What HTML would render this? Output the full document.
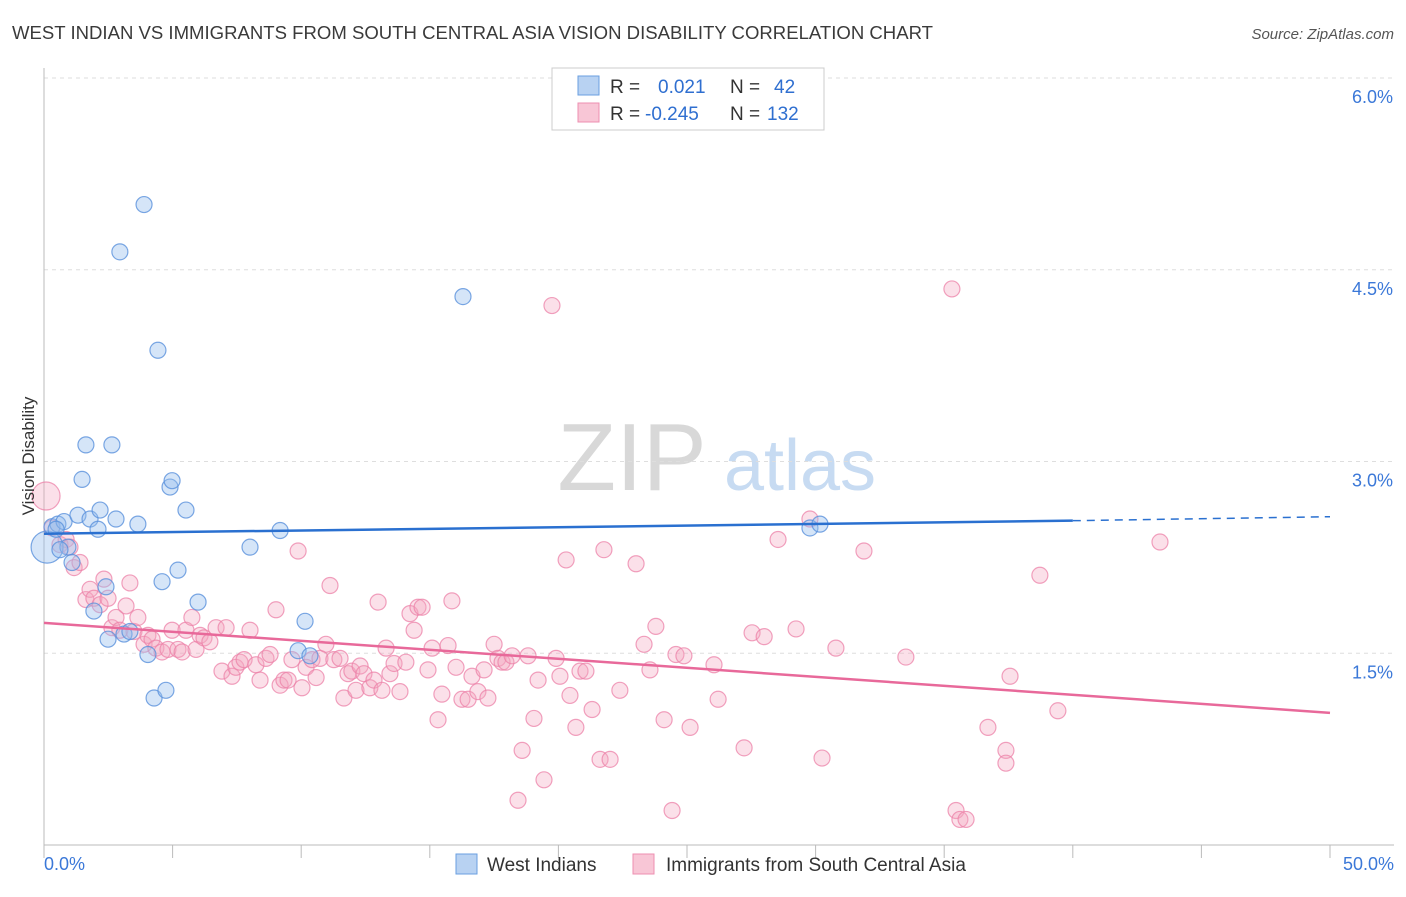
<!DOCTYPE html>
<html><head><meta charset="utf-8">
<style>
body{margin:0;background:#fff;font-family:"Liberation Sans",sans-serif;}
svg text{font-family:"Liberation Sans",sans-serif;}
</style></head>
<body>
<svg id="chart" width="1406" height="892" xmlns="http://www.w3.org/2000/svg">
<text x="12" y="39" font-size="18" fill="#3a3a3a" textLength="921" lengthAdjust="spacingAndGlyphs">WEST INDIAN VS IMMIGRANTS FROM SOUTH CENTRAL ASIA VISION DISABILITY CORRELATION CHART</text>
<text x="1394" y="39" font-size="15" fill="#555" text-anchor="end" font-style="italic">Source: ZipAtlas.com</text>
<g>
<text x="632" y="490" font-size="96" fill="#d8d8d8" text-anchor="middle" font-family="Liberation Serif, serif">ZIP</text>
<text x="800" y="490" font-size="72" fill="#c7dbf2" text-anchor="middle">atlas</text>
</g>
<g id="grid"></g>
<g id="axes"></g>
<g id="pink-points"></g>
<g id="blue-points"></g>
<g id="lines"></g>
<text transform="translate(34,456) rotate(-90)" font-size="17" fill="#333" text-anchor="middle">Vision Disability</text>
<g>
<rect x="552" y="68" width="272" height="62" fill="#fff" stroke="#ccc"/>
<rect x="578" y="76" width="21" height="19" fill="#b8d2f2" stroke="#6a9fe0"/>
<rect x="578" y="103" width="21" height="19" fill="#f8c6d6" stroke="#ee8fb0"/>
<text x="610" y="93" font-size="19" fill="#333">R =</text>
<text x="658" y="93" font-size="19" fill="#2f6fd0">0.021</text>
<text x="730" y="93" font-size="19" fill="#333">N =</text>
<text x="774" y="93" font-size="19" fill="#2f6fd0">42</text>
<text x="610" y="120" font-size="19" fill="#333">R =</text>
<text x="645" y="120" font-size="19" fill="#2f6fd0">-0.245</text>
<text x="730" y="120" font-size="19" fill="#333">N =</text>
<text x="767" y="120" font-size="19" fill="#2f6fd0">132</text>
</g>
<g>
<rect x="456" y="854" width="21" height="20" fill="#b8d2f2" stroke="#6a9fe0"/>
<text x="487" y="871" font-size="19" fill="#333">West Indians</text>
<rect x="633" y="854" width="21" height="20" fill="#f8c6d6" stroke="#ee8fb0"/>
<text x="666" y="871" font-size="19" fill="#333">Immigrants from South Central Asia</text>
</g>
</svg>
<script>
const yTicks=[1.5,3.0,4.5,6.0];
const yTickLabels=["1.5%","3.0%","4.5%","6.0%"];
const xTicks=[0,5,10,15,20,25,30,35,40,45,50];
const xEndLabels=["0.0%","50.0%"];
const blueX=[0.12,0.31,0.54,0.78,0.93,1.09,1.32,1.48,1.63,1.79,1.94,2.10,2.18,2.41,2.49,2.64,2.80,2.95,3.11,3.34,3.65,3.89,4.04,4.28,4.43,4.59,4.74,4.90,4.98,5.21,5.52,5.99,8.01,9.18,9.88,10.15,10.34,16.29,29.78,30.17,0.62,0.47];
const blueY=[2.33,2.49,2.51,2.53,2.33,2.21,2.58,2.86,3.13,2.55,1.83,2.47,2.62,2.02,1.61,3.13,2.55,4.64,1.65,1.67,2.51,5.01,1.49,1.15,3.87,2.06,1.21,2.80,2.85,2.15,2.62,1.90,2.33,2.46,1.52,1.75,1.48,4.29,2.48,2.51,2.31,2.47];
const pinkX=[0.08,0.31,0.62,0.86,1.01,1.17,1.40,1.63,1.79,1.94,2.18,2.33,2.49,2.64,2.80,2.95,3.19,3.34,3.50,3.65,3.89,4.04,4.20,4.35,4.59,4.82,4.98,5.21,5.37,5.52,5.75,5.91,6.07,6.22,6.45,6.69,6.92,7.08,7.31,7.46,7.62,7.78,8.01,8.24,8.40,8.63,8.79,9.02,9.18,9.33,9.49,9.64,9.88,10.03,10.19,10.42,10.58,10.73,10.96,11.12,11.27,11.51,11.66,11.82,11.97,12.13,12.29,12.44,12.67,12.83,12.99,13.14,13.30,13.45,13.61,13.84,14.07,14.23,14.39,14.54,14.70,14.93,15.09,15.32,15.47,15.71,15.86,16.02,16.25,16.49,16.64,16.87,17.11,17.26,17.50,17.65,17.81,17.96,18.20,18.43,18.59,18.82,19.05,19.21,19.44,19.75,19.91,20.06,20.30,20.45,20.68,20.84,21.07,21.31,21.62,21.77,22.01,22.39,23.02,23.33,23.56,23.79,24.11,24.42,24.57,24.88,25.12,26.05,26.21,27.22,27.53,28.00,28.54,29.24,29.78,30.25,30.79,31.88,33.51,35.30,35.46,35.61,35.85,36.70,37.40,37.40,37.56,38.72,39.42,43.39];
const pinkY=[2.73,2.48,2.35,2.39,2.33,2.17,2.21,1.92,2.00,1.93,1.88,2.08,1.93,1.70,1.78,1.68,1.87,2.05,1.67,1.78,1.57,1.64,1.61,1.54,1.51,1.53,1.68,1.53,1.51,1.68,1.78,1.53,1.64,1.62,1.59,1.70,1.36,1.70,1.32,1.39,1.43,1.45,1.68,1.41,1.29,1.46,1.49,1.84,1.25,1.29,1.29,1.45,2.30,1.23,1.39,1.45,1.31,1.46,1.57,2.03,1.45,1.46,1.15,1.34,1.36,1.21,1.40,1.34,1.23,1.29,1.90,1.21,1.54,1.34,1.42,1.20,1.43,1.81,1.68,1.86,1.86,1.37,1.54,0.98,1.18,1.56,1.91,1.39,1.14,1.14,1.32,1.20,1.37,1.15,1.57,1.46,1.43,1.43,1.48,0.35,0.74,1.48,0.99,1.29,0.51,4.22,1.46,1.32,2.23,1.17,0.92,1.36,1.36,1.06,0.67,2.31,0.67,1.21,2.20,1.57,1.37,1.71,0.98,0.27,1.49,1.48,0.92,1.41,1.14,0.76,1.66,1.63,2.39,1.69,2.55,0.68,1.54,2.30,1.47,4.35,0.27,0.20,0.20,0.92,0.74,0.64,1.32,2.11,1.05,2.37];
const blueTrend=[2.435,2.537,2.568]; // at 0%,40%,50%
const pinkTrend=[1.738,1.034]; // at 0%,50%

const NS="http://www.w3.org/2000/svg";
const X0=44,X1=1330,YB=845,YT=78;
const xs=v=>X0+(v/50)*(X1-X0);
const ys=v=>YB-(v/6)*(YB-YT);
function mk(tag,attrs,parent){const e=document.createElementNS(NS,tag);for(const k in attrs)e.setAttribute(k,attrs[k]);parent.appendChild(e);return e;}
const grid=document.getElementById('grid'),axes=document.getElementById('axes');
yTicks.forEach((t,i)=>{
  const l=mk('line',{x1:X0,x2:1394,y1:ys(t),y2:ys(t),stroke:'#dedede','stroke-dasharray':'4,4'},grid);
  
  
  const tx=mk('text',{x:1393,y:ys(t)+25,'font-size':18,fill:'#3b78d8','text-anchor':'end'},axes);
  tx.textContent=yTickLabels[i];
  
  
});
const ax=mk('line',{x1:X0,x2:X0,y1:68,y2:YB,stroke:'#bbb'},axes);


const bx=mk('line',{x1:X0,x2:1394,y1:YB,y2:YB,stroke:'#bbb'},axes);


xTicks.forEach(t=>{
  const l=mk('line',{x1:xs(t),x2:xs(t),y1:YB,y2:YB+13,stroke:'#bbb'},axes);
  
  
});
const xl0=mk('text',{x:44,y:870,'font-size':18,fill:'#3b78d8'},axes);xl0.textContent=xEndLabels[0];


const xl1=mk('text',{x:1394,y:870,'font-size':18,fill:'#3b78d8','text-anchor':'end'},axes);xl1.textContent=xEndLabels[1];



const pg=document.getElementById('pink-points');
pinkX.forEach((v,i)=>{
  const c=mk('circle',{cx:xs(v),cy:ys(pinkY[i]),r:i===0?14:8,fill:'rgba(244,166,192,0.35)',stroke:'rgba(236,130,168,0.75)','stroke-width':1.2},pg);
  
  
});
const bg=document.getElementById('blue-points');
blueX.forEach((v,i)=>{
  const c=mk('circle',{cx:xs(v),cy:ys(blueY[i]),r:i===0?16:8,fill:'rgba(150,190,238,0.4)',stroke:'rgba(90,145,220,0.8)','stroke-width':1.2},bg);
  
  
});
const lg=document.getElementById('lines');
const pl=mk('line',{x1:xs(0),y1:ys(pinkTrend[0]),x2:xs(50),y2:ys(pinkTrend[1]),stroke:'#e8699a','stroke-width':2.5},lg);


const bl=mk('line',{x1:xs(0),y1:ys(blueTrend[0]),x2:xs(40),y2:ys(blueTrend[1]),stroke:'#2a70d0','stroke-width':2.5},lg);


const bd=mk('line',{x1:xs(40),y1:ys(blueTrend[1]),x2:xs(50),y2:ys(blueTrend[2]),stroke:'#2a70d0','stroke-width':1.5,'stroke-dasharray':'8,6'},lg);


</script>
</body></html>
